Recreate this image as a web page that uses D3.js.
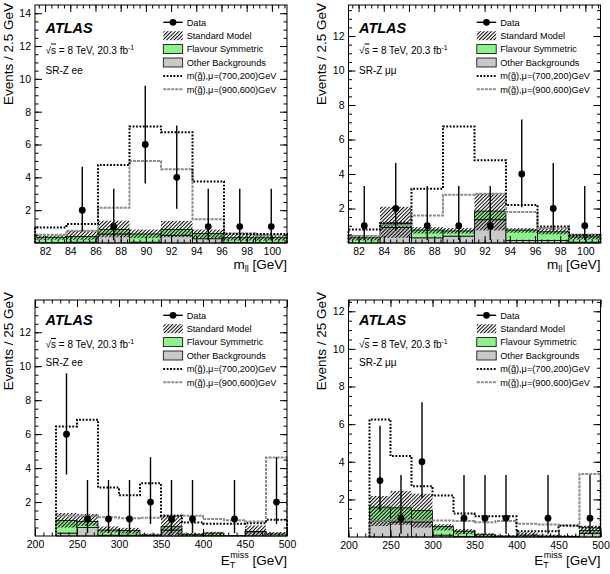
<!DOCTYPE html>
<html><head><meta charset="utf-8">
<script src="https://cdn.jsdelivr.net/npm/d3@7"></script>
<style>
body{margin:0;background:#fff}
svg{display:block}
text{font-family:"Liberation Sans",Arial,Helvetica,sans-serif;fill:#000}
</style>
</head><body>
<svg id="c" width="610" height="574"></svg>
<script>
// ---------- bins & ticks ----------
const mllEdges = [81.2, 83.7, 86.2, 88.7, 91.2, 93.7, 96.2, 98.7, 101.2];
const metEdges = [225, 250, 275, 300, 325, 350, 375, 400, 425, 450, 475, 500];
const mllTicks = [82, 84, 86, 88, 90, 92, 94, 96, 98, 100];
const metTicks = [200, 250, 300, 350, 400, 450, 500];
const yTicks = [2, 4, 6, 8, 10, 12, 14];

// ---------- SR-Z ee, m_ll ----------
const eeMllData   = [null, 2, 1, 6, 4, 1, 1, 1];
const eeMllErrLo  = [null, 0.71, 0.17, 3.62, 2.08, 0.17, 0.17, 0.17];
const eeMllErrHi  = [null, 4.64, 3.30, 9.58, 7.16, 3.30, 3.30, 3.30];
const eeMllOther  = [0.02, 0.05, 0.55, 0.05, 0.47, 0.26, 0.02, 0.02];
const eeMllFS     = [0.33, 0.35, 0.27, 0.50, 0.36, 0.31, 0.30, 0.30];
const eeMllBandLo = [0.20, 0.20, 0.35, 0.30, 0.35, 0.30, 0.15, 0.15];
const eeMllBandHi = [0.47, 0.75, 1.36, 0.82, 1.35, 0.82, 0.55, 0.50];
const eeMllSig700 = [0.95, 1.15, 4.75, 7.10, 6.75, 3.75, 0.55, 0.55];
const eeMllSig900 = [0.50, 0.75, 2.15, 5.00, 4.50, 1.45, 0.60, 0.45];

// ---------- SR-Z mumu, m_ll ----------
const mmMllData   = [1, 2, 1, 1, 1, 4, 2, 1];
const mmMllErrLo  = [0.17, 0.71, 0.17, 0.17, 0.17, 2.08, 0.71, 0.17];
const mmMllErrHi  = [3.30, 4.64, 3.30, 3.30, 3.30, 7.16, 4.64, 3.30];
const mmMllOther  = [0.00, 0.90, 0.30, 0.40, 1.35, 0.15, 0.15, 0.05];
const mmMllFS     = [0.30, 0.25, 0.45, 0.30, 0.50, 0.60, 0.50, 0.30];
const mmMllBandLo = [0.15, 0.30, 0.55, 0.55, 0.73, 0.60, 0.50, 0.20];
const mmMllBandHi = [0.45, 2.10, 0.92, 0.87, 2.86, 0.86, 0.85, 0.52];
const mmMllSig700 = [0.78, 1.15, 3.15, 6.75, 4.80, 2.20, 0.95, 0.45];
const mmMllSig900 = [0.40, 1.05, 1.60, 2.80, 2.85, 1.80, 0.85, 0.50];

// ---------- SR-Z ee, ETmiss ----------
const eeMetData   = [6, 1, 1, 1, 2, 1, 1, null, 1, null, 2];
const eeMetErrLo  = [3.62, 0.17, 0.17, 0.17, 0.71, 0.17, 0.17, null, 0.17, null, 0.71];
const eeMetErrHi  = [9.58, 3.30, 3.30, 3.30, 4.64, 3.30, 3.30, null, 3.30, null, 4.64];
const eeMetOther  = [0.17, 0.50, 0.05, 0.05, 0.00, 0.35, 0.00, 0.02, 0.00, 0.25, 0.00];
const eeMetFS     = [0.75, 0.35, 0.30, 0.28, 0.06, 0.20, 0.10, 0.15, 0.02, 0.02, 0.12];
const eeMetBandLo = [0.50, 0.60, 0.20, 0.15, 0.00, 0.05, 0.00, 0.05, 0.00, 0.00, 0.05];
const eeMetBandHi = [1.35, 1.30, 0.56, 0.48, 0.14, 1.20, 0.17, 0.25, 0.05, 0.62, 0.23];
const eeMetSig700 = [6.45, 6.85, 2.85, 2.40, 3.10, 1.20, 0.80, 0.72, 0.72, 0.75, 0.95];
const eeMetSig900 = [1.20, 1.20, 1.10, 1.05, 1.07, 1.20, 1.20, 1.00, 0.93, 0.85, 4.62];

// ---------- SR-Z mumu, ETmiss ----------
const mmMetData   = [3, 1, 4, null, 1, 1, 1, null, 1, null, 1];
const mmMetErrLo  = [1.37, 0.17, 2.08, null, 0.17, 0.17, 0.17, null, 0.17, null, 0.17];
const mmMetErrHi  = [5.92, 3.30, 7.16, null, 3.30, 3.30, 3.30, null, 3.30, null, 3.30];
const mmMetOther  = [0.84, 0.80, 0.80, 0.10, 0.03, 0.02, 0.00, 0.00, 0.00, 0.00, 0.20];
const mmMetFS     = [0.75, 0.75, 0.60, 0.45, 0.28, 0.10, 0.05, 0.10, 0.05, 0.03, 0.15];
const mmMetBandLo = [0.58, 0.65, 0.50, 0.35, 0.15, 0.02, 0.00, 0.00, 0.00, 0.00, 0.15];
const mmMetBandHi = [2.18, 2.45, 2.30, 0.68, 0.42, 0.20, 0.10, 0.25, 0.13, 0.10, 0.60];
const mmMetSig700 = [6.25, 4.30, 2.70, 2.20, 1.25, 1.10, 1.10, 0.30, 0.30, 0.60, 0.50];
const mmMetSig900 = [0.85, 0.90, 0.88, 0.88, 0.85, 0.78, 0.85, 0.70, 0.67, 0.62, 3.35];

const legendLabels = ["Data", "Standard Model", "Flavour Symmetric", "Other Backgrounds",
  "m(g\u0303),\u03bc=(700,200)GeV", "m(g\u0303),\u03bc=(900,600)GeV"];

// ---------- layout ----------
const panels = [
  {kind:"mll", chan:"ee", x0:35, x1:287, top:5, bottom:243, yMax:14.5,
   data:eeMllData, lo:eeMllErrLo, hi:eeMllErrHi, other:eeMllOther, fs:eeMllFS, bLo:eeMllBandLo, bHi:eeMllBandHi, s7:eeMllSig700, s9:eeMllSig900,
   ytx:13, yte:3, xtb:269, atlasY:32.5, sY:53.5, srY:73.5, legY:22.3},
  {kind:"mll", chan:"\u03bc\u03bc", x0:348.5, x1:600.5, top:5, bottom:243, yMax:13.8,
   data:mmMllData, lo:mmMllErrLo, hi:mmMllErrHi, other:mmMllOther, fs:mmMllFS, bLo:mmMllBandLo, bHi:mmMllBandHi, s7:mmMllSig700, s9:mmMllSig900,
   ytx:326, yte:3, xtb:269, atlasY:32.5, sY:53.5, srY:73.5, legY:22.3},
  {kind:"met", chan:"ee", x0:35, x1:287, top:300, bottom:536, yMax:13.9,
   data:eeMetData, lo:eeMetErrLo, hi:eeMetErrHi, other:eeMetOther, fs:eeMetFS, bLo:eeMetBandLo, bHi:eeMetBandHi, s7:eeMetSig700, s9:eeMetSig900,
   ytx:13, yte:292, xtb:565, atlasY:325, sY:348, srY:365.5, legY:315.3},
  {kind:"met", chan:"\u03bc\u03bc", x0:348.5, x1:600.5, top:300, bottom:537, yMax:12.6,
   data:mmMetData, lo:mmMetErrLo, hi:mmMetErrHi, other:mmMetOther, fs:mmMetFS, bLo:mmMetBandLo, bHi:mmMetBandHi, s7:mmMetSig700, s9:mmMetSig900,
   ytx:326, yte:292, xtb:565, atlasY:325, sY:348, srY:365.5, legY:315.3}
];

const GREEN = "#8cf28c", GREY = "#c8c8c8", SIG9 = "#8c8c8c";
const svg = d3.select("#c");
const defs = svg.append("defs");
const pat = defs.append("pattern").attr("id","hatch").attr("patternUnits","userSpaceOnUse")
  .attr("width",2.6).attr("height",2.6).attr("patternTransform","rotate(45)");
pat.append("line").attr("x1",0.5).attr("y1",0).attr("x2",0.5).attr("y2",2.6)
  .attr("stroke","#000").attr("stroke-width",1);

function drawPanel(p){
  const edges = p.kind === "mll" ? mllEdges : metEdges;
  const xDom = p.kind === "mll" ? [mllEdges[0], mllEdges[mllEdges.length-1]] : [200, 500];
  const x = d3.scaleLinear().domain(xDom).range([p.x0, p.x1]);
  const y = d3.scaleLinear().domain([0, p.yMax]).range([p.bottom, p.top]);
  const g = svg.append("g");
  const nb = edges.length - 1;
  const bins = d3.range(nb).map(i => ({x0:edges[i], x1:edges[i+1], i}));

  // stacked backgrounds
  g.selectAll(".oth").data(bins.filter(b => p.other[b.i] > 0)).join("rect")
    .attr("x", b => x(b.x0)).attr("width", b => x(b.x1)-x(b.x0))
    .attr("y", b => y(p.other[b.i])).attr("height", b => y(0)-y(p.other[b.i]))
    .attr("fill", GREY).attr("stroke","#000").attr("stroke-width",0.8);
  g.selectAll(".fs").data(bins.filter(b => p.fs[b.i] > 0)).join("rect")
    .attr("x", b => x(b.x0)).attr("width", b => x(b.x1)-x(b.x0))
    .attr("y", b => y(p.other[b.i]+p.fs[b.i])).attr("height", b => y(p.other[b.i])-y(p.other[b.i]+p.fs[b.i]))
    .attr("fill", GREEN).attr("stroke","#000").attr("stroke-width",0.8);
  // SM uncertainty band
  g.selectAll(".band").data(bins).join("rect")
    .attr("x", b => x(b.x0)).attr("width", b => x(b.x1)-x(b.x0))
    .attr("y", b => y(p.bHi[b.i])).attr("height", b => Math.max(0, y(p.bLo[b.i])-y(p.bHi[b.i])))
    .attr("fill","url(#hatch)");

  // signal step histograms
  const step = vals => {
    const pts = [[edges[0],0]];
    vals.forEach((v,i) => { pts.push([edges[i],v]); pts.push([edges[i+1],v]); });
    pts.push([edges[nb],0]);
    return d3.line().x(d => x(d[0])).y(d => y(d[1]))(pts);
  };
  g.append("path").attr("d", step(p.s9)).attr("fill","none").attr("stroke",SIG9)
    .attr("stroke-width",2).attr("stroke-dasharray","3,1");
  g.append("path").attr("d", step(p.s7)).attr("fill","none").attr("stroke","#000")
    .attr("stroke-width",2).attr("stroke-dasharray","1.8,1.6");

  // data
  const pts = bins.filter(b => p.data[b.i] !== null);
  g.selectAll(".eb").data(pts).join("line")
    .attr("x1", b => x((b.x0+b.x1)/2)).attr("x2", b => x((b.x0+b.x1)/2))
    .attr("y1", b => y(p.lo[b.i])).attr("y2", b => y(Math.min(p.hi[b.i], p.yMax)))
    .attr("stroke","#000").attr("stroke-width",1.4);
  g.selectAll(".dp").data(pts).join("circle")
    .attr("cx", b => x((b.x0+b.x1)/2)).attr("cy", b => y(p.data[b.i])).attr("r",3.4).attr("fill","#000");

  // frame & axes (ticks inward on all sides)
  g.append("rect").attr("x",p.x0).attr("y",p.top).attr("width",p.x1-p.x0).attr("height",p.bottom-p.top)
    .attr("fill","none").attr("stroke","#000").attr("stroke-width",1);
  const majX = p.kind === "mll" ? mllTicks : metTicks;
  const minX = p.kind === "mll" ? d3.range(81.5, 101.2, 0.5) : d3.range(200, 501, 10);
  const majY = yTicks.filter(v => v <= p.yMax);
  const minY = d3.range(0.5, p.yMax, 0.5);
  const ax = (gen, sc, vals, size, fmt) => gen(sc).tickValues(vals).tickSize(size).tickSizeOuter(0).tickFormat(fmt);
  const addAxis = (axis, tr) => {
    const a = g.append("g").attr("transform", tr).call(axis);
    a.select(".domain").remove();
    a.selectAll("line").attr("stroke","#000").attr("stroke-width",1);
    a.selectAll("text").style("font-size","10.5px").style("font-family",'"Liberation Sans",Arial,sans-serif');
    return a;
  };
  addAxis(ax(d3.axisBottom, x, minX, -3.5, ""), `translate(0,${p.bottom})`);
  addAxis(ax(d3.axisBottom, x, majX, -7, d3.format("d")).tickPadding(5), `translate(0,${p.bottom})`);
  addAxis(ax(d3.axisTop, x, minX, -3.5, ""), `translate(0,${p.top})`);
  addAxis(ax(d3.axisTop, x, majX, -7, ""), `translate(0,${p.top})`);
  addAxis(ax(d3.axisLeft, y, minY, -3.5, ""), `translate(${p.x0},0)`);
  addAxis(ax(d3.axisLeft, y, majY, -7, d3.format("d")).tickPadding(4), `translate(${p.x0},0)`);
  addAxis(ax(d3.axisRight, y, minY, -3.5, ""), `translate(${p.x1},0)`);
  addAxis(ax(d3.axisRight, y, majY, -7, ""), `translate(${p.x1},0)`);

  // axis titles
  g.append("text").attr("transform", `translate(${p.ytx},${p.yte}) rotate(-90)`)
    .attr("text-anchor","end").style("font-size","13.5px")
    .text(p.kind === "mll" ? "Events / 2.5 GeV" : "Events / 25 GeV");
  const xt = g.append("text").attr("x", p.x1).attr("y", p.xtb).attr("text-anchor","end").style("font-size","13.5px");
  if (p.kind === "mll") {
    xt.append("tspan").text("m");
    xt.append("tspan").attr("dy",3).style("font-size","9px").text("ll");
    xt.append("tspan").attr("dy",-3).text(" [GeV]");
  } else {
    xt.append("tspan").text("E");
    xt.append("tspan").attr("dy",3).style("font-size","9px").text("T");
    xt.append("tspan").attr("dx",-5).attr("dy",-10).style("font-size","9px").text("miss");
    xt.append("tspan").attr("dy",7).text(" [GeV]");
  }

  // labels
  const lx = p.x0 + 10.5;
  g.append("text").attr("x",lx).attr("y",p.atlasY).style("font-size","14.5px")
    .style("font-weight","bold").style("font-style","italic").text("ATLAS");
  const st = g.append("text").attr("x",lx).attr("y",p.sY).style("font-size","10px");
  st.append("tspan").text("\u221a");
  st.append("tspan").style("text-decoration","overline").text("s");
  st.append("tspan").text(" = 8 TeV, 20.3 fb");
  st.append("tspan").attr("dy",-4).style("font-size","7px").text("-1");
  g.append("text").attr("x",lx).attr("y",p.srY).style("font-size","10px").text("SR-Z " + p.chan);

  // legend
  const bx = p.x0 + 128.3, bw = 19.4, tx = p.x0 + 151.7, dy = 13.4;
  legendLabels.forEach((lab, k) => {
    const cy = p.legY + k*dy;
    if (k === 0) {
      g.append("line").attr("x1",bx).attr("x2",bx+bw).attr("y1",cy).attr("y2",cy).attr("stroke","#000").attr("stroke-width",1.4);
      g.append("circle").attr("cx",bx+bw/2).attr("cy",cy).attr("r",3.4).attr("fill","#000");
    } else if (k === 1) {
      g.append("rect").attr("x",bx).attr("y",cy-4.5).attr("width",bw).attr("height",9).attr("fill","url(#hatch)");
    } else if (k === 2 || k === 3) {
      g.append("rect").attr("x",bx).attr("y",cy-4.5).attr("width",bw).attr("height",9)
        .attr("fill", k === 2 ? GREEN : GREY).attr("stroke","#000").attr("stroke-width",0.8);
    } else {
      g.append("line").attr("x1",bx).attr("x2",bx+bw).attr("y1",cy).attr("y2",cy)
        .attr("stroke", k === 4 ? "#000" : SIG9).attr("stroke-width",2)
        .attr("stroke-dasharray", k === 4 ? "1.8,1.6" : "3,1");
    }
    g.append("text").attr("x",tx).attr("y",cy+3.3).style("font-size","9.2px").text(lab);
  });
}
panels.forEach(drawPanel);
</script>
</body></html>
